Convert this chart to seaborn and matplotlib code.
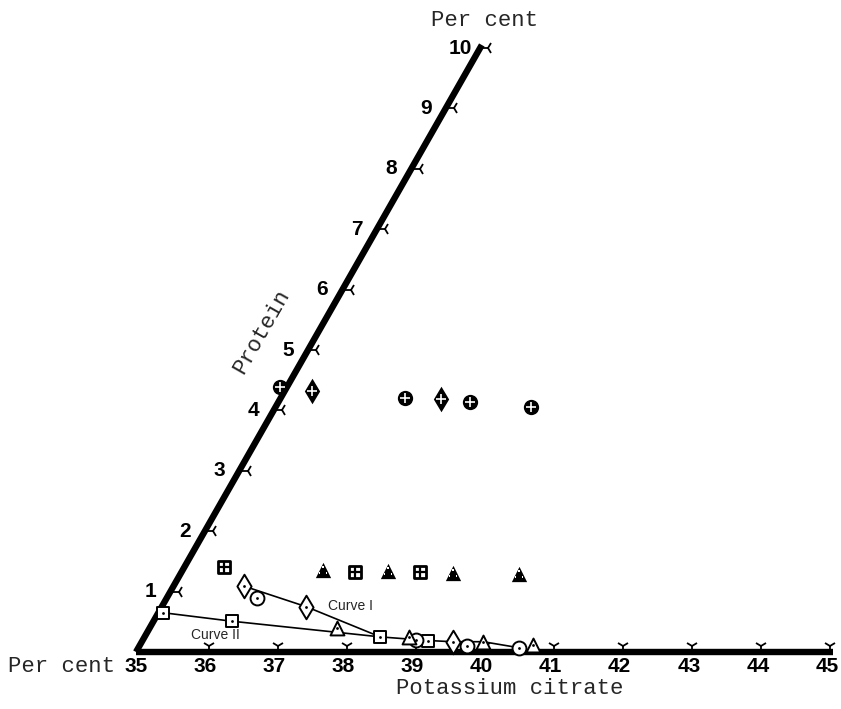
import numpy as np
import pandas as pd
import matplotlib
matplotlib.use("Agg")
import matplotlib.pyplot as plt
import matplotlib.transforms as mtransforms
import seaborn as sns

# ---- data: potassium citrate (per cent) and protein (per cent) ----
citrate_ticks = [35, 36, 37, 38, 39, 40, 41, 42, 43, 44, 45]
protein_ticks = [1, 2, 3, 4, 5, 6, 7, 8, 9, 10]

# solid phase points, upper row
crossed_circle_c = [34.90, 36.80, 37.77, 38.70]
crossed_circle_p = [4.39, 4.21, 4.14, 4.06]
crossed_diamond_c = [35.40, 37.33]
crossed_diamond_p = [4.32, 4.19]

# middle row
grid_square_c = [35.57, 37.51, 38.45]
grid_square_p = [1.41, 1.33, 1.33]
dark_triangle_c = [37.03, 37.98, 38.94, 39.90]
dark_triangle_p = [1.36, 1.34, 1.31, 1.29]

# open symbols near the curves
open_square_c = [35.07, 36.13, 38.41, 39.13]
open_square_p = [0.65, 0.51, 0.25, 0.19]
open_diamond_c = [36.02, 37.09, 39.50]
open_diamond_p = [1.09, 0.75, 0.17]
open_circle_c = [36.31, 38.95, 39.74, 40.51]
open_circle_p = [0.89, 0.20, 0.10, 0.07]
open_triangle_c = [37.71, 38.83, 39.94, 40.69]
open_triangle_p = [0.40, 0.25, 0.17, 0.12]

# curves
curve1_c = [36.02, 37.09, 38.41]
curve1_p = [1.09, 0.75, 0.25]
curve2_c = [35.07, 36.13, 38.41, 39.13, 39.50, 39.94, 40.51]
curve2_p = [0.65, 0.51, 0.25, 0.19, 0.17, 0.17, 0.07]

# ---- figure ----
sns.set_style("white")
plt.rcParams["font.family"] = ["Liberation Sans", "DejaVu Sans"]

W, H = 841, 709
fig = plt.figure(figsize=(W / 100, H / 100), dpi=100)
ax = fig.add_axes([0, 0, 1, 1])
ax.set_xlim(33.032, 45.203)
ax.set_ylim(-0.944, 10.795)
ax.axis("off")

# oblique (60 degree) protein axis: a sheared data transform
skew = mtransforms.Affine2D(np.array([[1.0, 0.498, 0.0],
                                      [0.0, 1.0, 0.0],
                                      [0.0, 0.0, 1.0]]))
T = skew + ax.transData

# axes lines
ax.plot([35, 45.08], [0, 0], color="black", lw=4.6, transform=T,
        solid_capstyle="butt", zorder=2)
ax.plot([35, 35], [0, 10.05], color="black", lw=4.6, transform=T,
        solid_capstyle="butt", zorder=2)

# tick marks
ax.plot(citrate_ticks[1:], [0.1] * (len(citrate_ticks) - 1), ls="none",
        marker="1", ms=9, mew=1.3, color="black", transform=T, zorder=3)
ax.plot([35.12] * len(protein_ticks), protein_ticks, ls="none",
        marker="3", ms=9, mew=1.3, color="black", transform=T, zorder=3)

numfont = dict(fontsize=15, fontweight="bold", color="black")
for c in citrate_ticks:
    ax.annotate(str(c), xy=(c, 0), xycoords=T, xytext=(0, -15),
                textcoords="offset pixels", ha="center", va="center",
                **numfont)
for p in protein_ticks:
    ax.annotate(str(p), xy=(35, p), xycoords=T, xytext=(-20, 0),
                textcoords="offset pixels", ha="center", va="center",
                **numfont)

# curves
lines = pd.concat([
    pd.DataFrame({"c": curve1_c, "p": curve1_p, "curve": "I"}),
    pd.DataFrame({"c": curve2_c, "p": curve2_p, "curve": "II"}),
])
for name, g in lines.groupby("curve"):
    sns.lineplot(data=g, x="c", y="p", sort=False, estimator=None,
                 color="black", lw=1.2, legend=False, ax=ax, transform=T,
                 zorder=3)


def open_marks(cs, ps, marker, ms):
    sns.scatterplot(x=cs, y=ps, marker=marker, s=ms ** 2, facecolor="white",
                    edgecolor="black", linewidth=1.4, ax=ax, transform=T,
                    zorder=4, legend=False)
    sns.scatterplot(x=cs, y=ps, marker="o", s=4, color="black",
                    linewidth=0, ax=ax, transform=T, zorder=5, legend=False)


open_marks(open_square_c, open_square_p, "s", 9)
open_marks(open_diamond_c, open_diamond_p, "d", 12)
open_marks(open_circle_c, open_circle_p, "o", 10)
open_marks(open_triangle_c, open_triangle_p, "^", 10)

# dark symbols
sns.scatterplot(x=crossed_circle_c, y=crossed_circle_p, marker="o", s=11 ** 2,
                color="black", linewidth=0, ax=ax, transform=T, zorder=4,
                legend=False)
sns.scatterplot(x=crossed_diamond_c, y=crossed_diamond_p, marker="d",
                s=13 ** 2, color="black", linewidth=0, ax=ax, transform=T,
                zorder=4, legend=False)
for cs, ps, s in [(crossed_circle_c, crossed_circle_p, 7),
                  (crossed_diamond_c, crossed_diamond_p, 7)]:
    sns.scatterplot(x=cs, y=ps, marker="+", s=s ** 2, color="white",
                    linewidth=1.2, ax=ax, transform=T, zorder=5,
                    legend=False)

sns.scatterplot(x=grid_square_c, y=grid_square_p, marker="s", s=9 ** 2,
                facecolor="white", edgecolor="black", linewidth=2.0, ax=ax,
                transform=T, zorder=4, legend=False)
sns.scatterplot(x=grid_square_c, y=grid_square_p, marker="+", s=9 ** 2,
                color="black", linewidth=1.6, ax=ax, transform=T, zorder=5,
                legend=False)

sns.scatterplot(x=dark_triangle_c, y=dark_triangle_p, marker="^", s=11 ** 2,
                color="black", linewidth=0, ax=ax, transform=T, zorder=4,
                legend=False)
sns.scatterplot(x=dark_triangle_c, y=dark_triangle_p, marker=r"$\therefore$",
                s=6 ** 2, color="white", linewidth=0, ax=ax, transform=T,
                zorder=5, legend=False)

# axis titles and labels
lettering = ["Liberation Mono", "DejaVu Sans Mono"]
fig.text(61 / W, 1 - 667 / H, "Per cent", family=lettering, fontsize=16,
         ha="center", va="center")
fig.text(485 / W, 1 - 21 / H, "Per cent", family=lettering, fontsize=16,
         ha="center", va="center")
fig.text(510 / W, 1 - 688 / H, "Potassium citrate", family=lettering,
         fontsize=16, ha="center", va="center")
fig.text(262 / W, 1 - 332 / H, "Protein", family=lettering, fontsize=16,
         ha="center", va="center", rotation=60.3)
fig.text(351 / W, 1 - 606 / H, "Curve I", fontsize=10, ha="center",
         va="center")
fig.text(215 / W, 1 - 635 / H, "Curve II", fontsize=10, ha="center",
         va="center")

fig.savefig("out.png", dpi=100, facecolor="white")
